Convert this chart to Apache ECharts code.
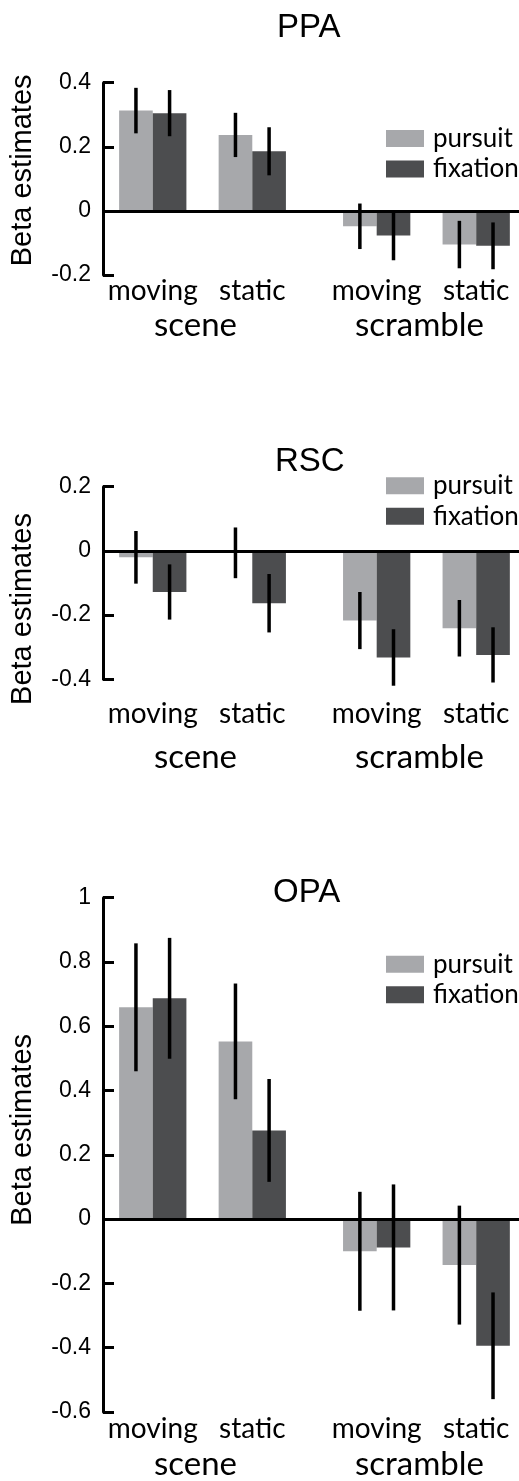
<!DOCTYPE html>
<html>
<head>
<meta charset="utf-8">
<script src="https://cdn.jsdelivr.net/npm/echarts@6/dist/echarts.min.js"></script>
<style>
  html, body { margin: 0; padding: 0; background: #fff; }
  #chart { width: 519px; height: 1481px; }
</style>
</head>
<body>
<div id="chart"></div>
<script>
// Condition labels along the bottom of each panel
const categories = ['moving', 'static', 'moving', 'static'];
const groups = ['scene', 'scramble'];
const seriesNames = ['pursuit', 'fixation'];
const panelTitles = ['PPA', 'RSC', 'OPA'];

// Beta estimates (mean) and error half-widths, one value per condition
const ppaPursuit = [0.313, 0.237, -0.048, -0.105];
const ppaPursuitErr = [0.071, 0.069, 0.071, 0.074];
const ppaFixation = [0.305, 0.186, -0.077, -0.109];
const ppaFixationErr = [0.072, 0.075, 0.077, 0.073];

const rscPursuit = [-0.020, -0.006, -0.217, -0.241];
const rscPursuitErr = [0.082, 0.079, 0.089, 0.088];
const rscFixation = [-0.128, -0.163, -0.332, -0.324];
const rscFixationErr = [0.086, 0.091, 0.088, 0.086];

const opaPursuit = [0.659, 0.553, -0.100, -0.143];
const opaPursuitErr = [0.199, 0.180, 0.185, 0.185];
const opaFixation = [0.687, 0.276, -0.088, -0.394];
const opaFixationErr = [0.188, 0.160, 0.196, 0.166];

// y-axis ranges [min, max] per panel
const ppaRange = [-0.2, 0.4];
const rscRange = [-0.4, 0.2];
const opaRange = [-0.6, 1.0];

// ---- layout / style ----
const xPos = [1, 2, 3.25, 4.25];          // condition positions on the x scale
const groupPos = [1.5, 3.75];             // group label positions
const X_MIN = 0.5, X_MAX = 4.68;
const BAR_SPAN = 0.338;                   // width of one bar in x units
const COLORS = ['#a7a8ab', '#4c4d4f'];
const LABEL_FONT = 'Lato, "Open Sans", sans-serif';
const NUM_FONT = '"Liberation Sans", Arial, sans-serif';

const panels = [
  { title: panelTitles[0], range: ppaRange,
    vals: [ppaPursuit, ppaFixation], errs: [ppaPursuitErr, ppaFixationErr],
    grid: { top: 82.7, height: 192.3 }, titleTop: 6, titleLeft: 272,
    legendTop: 120.5, catMargin: 2, grpMargin: 34, namePad: [0, 0, 0, 17] },
  { title: panelTitles[1], range: rscRange,
    vals: [rscPursuit, rscFixation], errs: [rscPursuitErr, rscFixationErr],
    grid: { top: 486.7, height: 192.6 }, titleTop: 440, titleLeft: 270,
    legendTop: 467.8, catMargin: 21, grpMargin: 62, namePad: [0, 52, 0, 0] },
  { title: panelTitles[2], range: opaRange,
    vals: [opaPursuit, opaFixation], errs: [opaPursuitErr, opaFixationErr],
    grid: { top: 897.7, height: 520.6 }, titleTop: 871, titleLeft: 268,
    legendTop: 946.2, catMargin: 3, grpMargin: 36, namePad: [0, 0, 0, 50] }
];

function nearestIndex(arr, v) {
  let best = 0;
  arr.forEach((a, i) => { if (Math.abs(a - v) < Math.abs(arr[best] - v)) best = i; });
  return best;
}

// side: -1 draws left of the condition position, +1 right of it
function barRenderer(side) {
  return function (params, api) {
    const x = api.value(0), v = api.value(1), e = api.value(2);
    const base = api.coord([x, 0]);
    const tip = api.coord([x, v]);
    const w = api.size([BAR_SPAN, 0])[0];
    const cx = base[0] + side * w / 2;
    const hi = api.coord([x, v + e]);
    const lo = api.coord([x, v - e]);
    return {
      type: 'group',
      children: [
        { type: 'rect',
          shape: { x: cx - w / 2, y: Math.min(base[1], tip[1]), width: w, height: Math.abs(base[1] - tip[1]) },
          style: { fill: api.visual('color') } },
        { type: 'line',
          shape: { x1: cx, y1: hi[1], x2: cx, y2: lo[1] },
          style: { stroke: '#000', lineWidth: 3.5 } }
      ]
    };
  };
}

const option = {
  animation: false,
  backgroundColor: '#fff',
  title: [], legend: [], grid: [], xAxis: [], yAxis: [], series: []
};

panels.forEach((p, i) => {
  option.title.push({
    text: p.title, left: p.titleLeft, top: p.titleTop,
    textStyle: { fontFamily: NUM_FONT, fontSize: 33, fontWeight: 'normal', color: '#000' }
  });
  option.legend.push({
    data: seriesNames, orient: 'vertical', left: 381, top: p.legendTop,
    itemWidth: 38, itemHeight: 17, itemGap: 4.5, icon: 'rect',
    textStyle: { fontFamily: LABEL_FONT, fontSize: 26, lineHeight: 26, color: '#000', padding: [0, 0, 0, 4] },
    selectedMode: false
  });
  option.grid.push({ left: 99, width: 420, top: p.grid.top, height: p.grid.height });
  // condition labels
  option.xAxis.push({
    type: 'value', gridIndex: i, min: X_MIN, max: X_MAX, position: 'bottom',
    axisLine: { show: false, onZero: false }, axisTick: { show: false }, splitLine: { show: false },
    axisLabel: {
      customValues: xPos, margin: p.catMargin,
      formatter: v => categories[nearestIndex(xPos, v)],
      fontFamily: LABEL_FONT, fontSize: 28, color: '#000'
    }
  });
  // group labels
  option.xAxis.push({
    type: 'value', gridIndex: i, min: X_MIN, max: X_MAX, position: 'bottom',
    axisLine: { show: false, onZero: false }, axisTick: { show: false }, splitLine: { show: false },
    axisLabel: {
      customValues: groupPos, margin: p.grpMargin,
      formatter: v => groups[nearestIndex(groupPos, v)],
      fontFamily: LABEL_FONT, fontSize: 33, color: '#000', padding: [0, 14, 0, 0]
    }
  });
  option.yAxis.push({
    type: 'value', gridIndex: i, min: p.range[0], max: p.range[1], interval: 0.2,
    name: 'Beta estimates', nameLocation: 'middle', nameRotate: 90, nameGap: 66,
    nameTextStyle: { fontFamily: NUM_FONT, fontSize: 29, color: '#000', padding: p.namePad },
    axisLine: { show: true, lineStyle: { color: '#000', width: 3 } },
    axisTick: { show: true, inside: true, length: 11, lineStyle: { color: '#000', width: 3 } },
    axisLabel: { fontFamily: NUM_FONT, fontSize: 23, color: '#000', margin: 12 },
    splitLine: { show: false }
  });
  seriesNames.forEach((name, s) => {
    const series = {
      type: 'custom', name: name,
      xAxisIndex: i * 2, yAxisIndex: i,
      itemStyle: { color: COLORS[s] },
      renderItem: barRenderer(s === 0 ? -1 : 1),
      encode: { x: 0, y: 1 },
      data: xPos.map((x, k) => [x, p.vals[s][k], p.errs[s][k]]),
      clip: false
    };
    if (s === 1) {
      series.markLine = {
        silent: true, symbol: 'none', label: { show: false },
        lineStyle: { color: '#000', width: 3, type: 'solid' },
        data: [{ yAxis: 0 }]
      };
    }
    option.series.push(series);
  });
});

const chart = echarts.init(document.getElementById('chart'), null, { renderer: 'canvas' });
chart.setOption(option);
</script>
</body>
</html>
